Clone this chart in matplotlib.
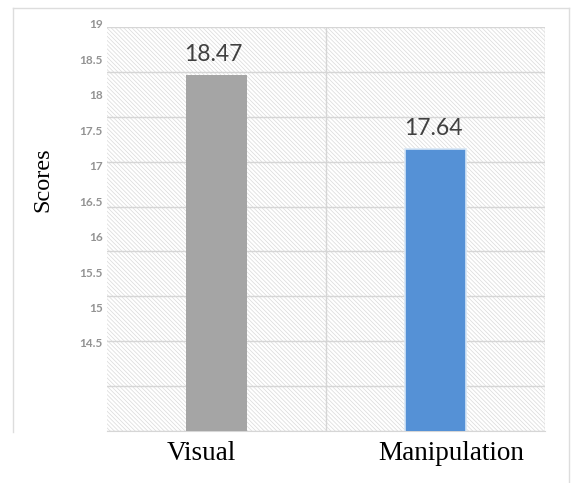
import matplotlib
matplotlib.use("Agg")
import matplotlib.pyplot as plt
from matplotlib.patches import Rectangle
from matplotlib.lines import Line2D
import numpy as np

categories = ["Visual", "Manipulation"]
scores = [18.47, 17.64]
bar_colors = ["#A5A5A5", "#5591D6"]
score_ticks = [19, 18.5, 18, 17.5, 17, 16.5, 16, 15.5, 15, 14.5]
score_tick_labels = ["19", "18.5", "18", "17.5", "17", "16.5", "16", "15.5", "15", "14.5"]

plt.rcParams["hatch.linewidth"] = 0.5

W, H = 571, 483
fig = plt.figure(figsize=(W / 100, H / 100), dpi=100)
fig.patch.set_facecolor("white")

def fx(px):
    return px / W

def fy(py):
    return 1 - py / H

# chart frame
frame_kw = dict(color="#DDDDDD", linewidth=1.0, transform=fig.transFigure)
fig.add_artist(Line2D([fx(13), fx(569)], [fy(8), fy(8)], **frame_kw))
fig.add_artist(Line2D([fx(13), fx(13)], [fy(8), fy(432)], **frame_kw))
fig.add_artist(Line2D([fx(569), fx(569)], [fy(8), fy(483)], **frame_kw))

# plot area
ax = fig.add_axes([fx(107), fy(431), fx(545) - fx(107), fy(27) - fy(431)])
ax.set_xlim(-0.5, 1.5)
ax.set_ylim(14.5, 19)
ax.set_facecolor("white")

# diagonal hatched background
ax.add_patch(Rectangle((0, 0), 1, 1, transform=ax.transAxes, fill=False,
                       hatch="\\\\\\\\\\\\\\\\", edgecolor="#DADADA", linewidth=0,
                       zorder=0))

ax.set_yticks(np.arange(14.5, 19.01, 0.5))
ax.set_yticklabels([])
ax.set_xticks([0.5, 1.5])
ax.set_xticklabels([])
ax.tick_params(length=0)
ax.grid(True, color="#D6D6D6", linewidth=1.0, zorder=1)
ax.set_axisbelow(True)
for side in ["top", "left", "right"]:
    ax.spines[side].set_visible(False)
ax.spines["bottom"].set_color("#D6D6D6")

x = np.arange(len(categories))
bars = ax.bar(x, scores, width=0.274, color=bar_colors, zorder=3,
              edgecolor=["#A5A5A5", "#D6E6F6"], linewidth=[0, 1.2])

value_offsets = [-3, -2]
for xi, val, dx in zip(x, scores, value_offsets):
    ax.annotate(f"{val:.2f}", xy=(xi, val), xytext=(dx * 0.72, 14.5),
                textcoords="offset points", ha="center", va="center",
                fontsize=16.5, family="Lato", color="#404040", zorder=4)

label_offsets = [-15, 16]
for xi, name, dx in zip(x, categories, label_offsets):
    ax.annotate(name, xy=(xi, 0), xycoords=("data", "axes fraction"),
                xytext=(dx * 0.72, -16.5), textcoords="offset points",
                ha="center", va="center", fontsize=19.5,
                family="Liberation Serif", color="black",
                annotation_clip=False)

# score scale labels
lax = fig.add_axes([fx(107), fy(343), 0.001, fy(24) - fy(343)])
lax.set_ylim(14.5, 19)
lax.set_yticks(score_ticks)
lax.set_yticklabels(score_tick_labels, family="Lato", fontsize=8.5,
                    color="#939393", fontweight="bold")
lax.tick_params(axis="y", length=0, pad=3)
lax.set_xticks([])
lax.patch.set_visible(False)
for s in lax.spines.values():
    s.set_visible(False)

fig.text(fx(43), fy(180), "Scores", rotation=90, ha="center", va="center",
         fontsize=17.5, family="Liberation Serif", color="black")

fig.savefig("out.png", dpi=100)
